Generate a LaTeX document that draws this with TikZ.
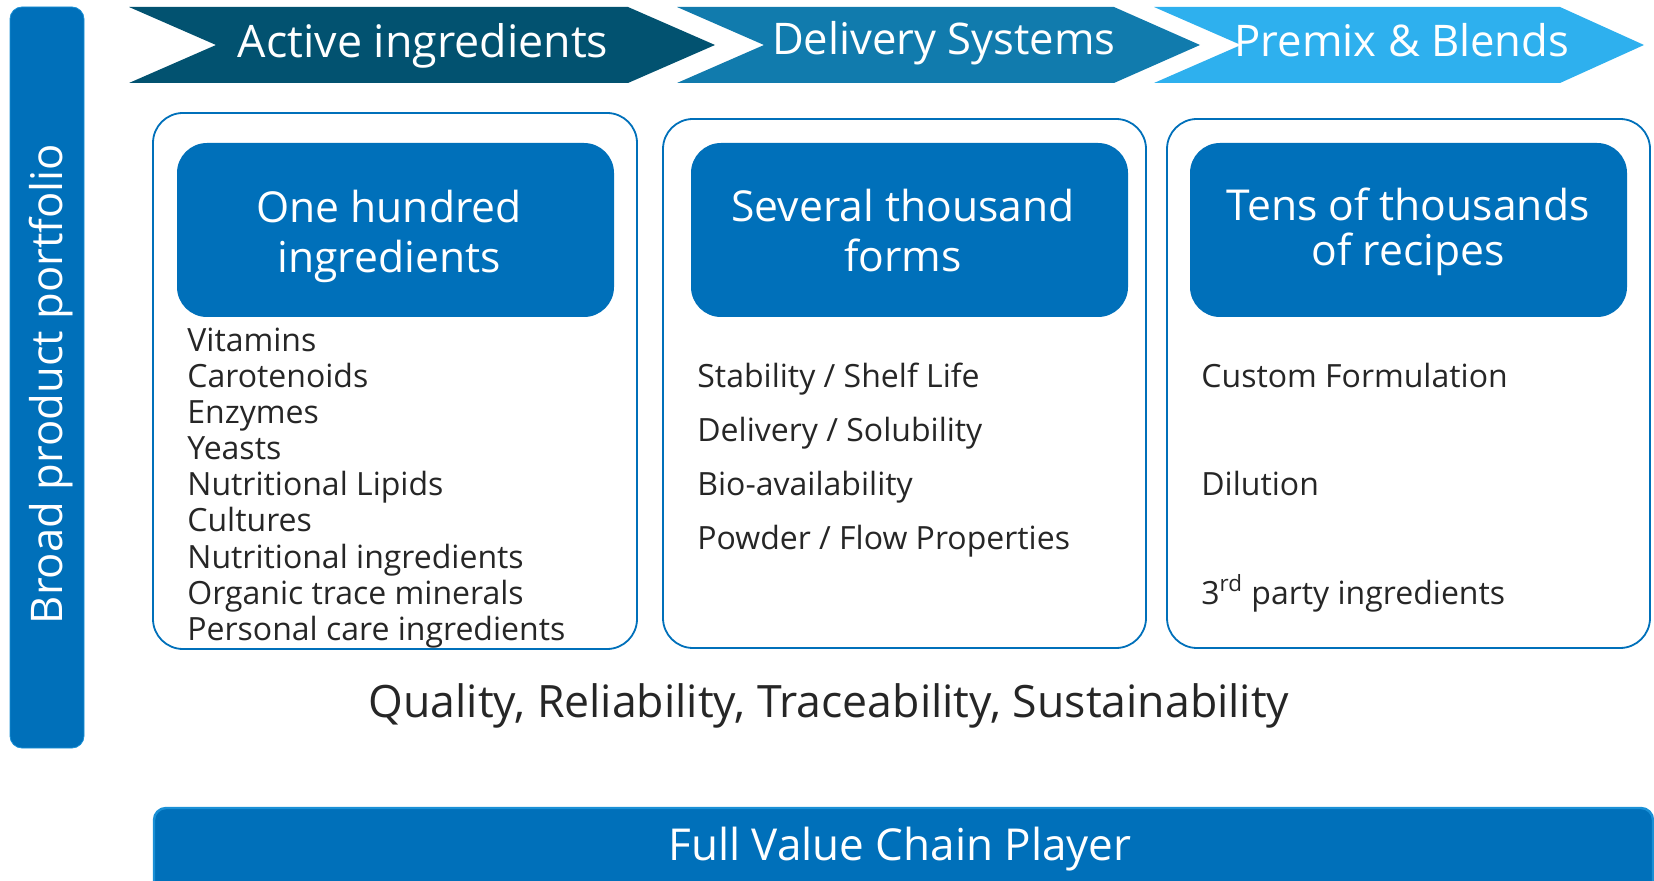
\documentclass[tikz,border=0pt]{standalone}
\usepackage{fontspec}
\setmainfont{Open Sans}
\definecolor{chevA}{HTML}{025270}
\definecolor{chevB}{HTML}{117BAD}
\definecolor{chevC}{HTML}{2EB0EE}
\definecolor{dsmblue}{HTML}{0070BA}
\definecolor{rimblue}{HTML}{1A90D6}
\definecolor{txtgrey}{HTML}{262626}

\begin{document}
\begin{tikzpicture}[x=0.5pt, y=-0.5pt]
  \tikzstyle{head} = [text=white, font=\fontsize{21.8}{25}\selectfont, inner sep=0pt, anchor=base]
  \tikzstyle{frame} = [draw=dsmblue, line width=0.9pt, rounded corners=15pt, fill=white]
  \tikzstyle{tile} = [fill=dsmblue, rounded corners=15pt, minimum width=218.5pt, minimum height=87pt]
  \tikzstyle{title} = [text=white, align=center, inner sep=0pt, font=\fontsize{21.3}{25}\selectfont]
  \tikzstyle{item} = [text=txtgrey, anchor=base west, inner sep=0pt, font=\fontsize{16}{18}\selectfont]

  \useasboundingbox (0,0) rectangle (1654,881);

  % value chain arrows
  \fill[chevA] (129,7) -- (628,7) -- (715,45) -- (628,83) -- (129,83) -- (216,45) -- cycle;
  \fill[chevB] (677,7) -- (1114,7) -- (1200,45) -- (1114,83) -- (677,83) -- (764,45) -- cycle;
  \fill[chevC] (1154,7) -- (1560,7) -- (1644,45) -- (1560,83) -- (1154,83) -- (1241,45) -- cycle;
  \node[head, font=\fontsize{22.4}{25}\selectfont] (act) at (423,58) {Active ingredients};
  \node[head] (del) at (944,55) {Delivery Systems};
  \node[head] (pre) at (1402,57) {Premix \& Blends};

  % portfolio bar
  \draw[rimblue, fill=dsmblue, rounded corners=6pt] (10,7) rectangle (84,748);
  \node[head, rotate=90] (port) at (62,384) {Broad product portfolio};

  % columns
  \draw[frame] (153,113) rectangle (637,649);
  \draw[frame] (663,119) rectangle (1146,648);
  \draw[frame] (1167,119) rectangle (1650,648);

  \node[tile] (hund) at (395.5,230) {};
  \node[tile] (thou) at (909.5,230) {};
  \node[tile] (tens) at (1408.5,230) {};
  \node[title] (hundt) at (389,236) {One hundred\\ingredients};
  \node[title] (thout) at (903,231) {Several thousand\\forms};
  \node[title, font=\fontsize{21.3}{22.5}\selectfont] (tenst) at (1408,232) {Tens of thousands\\of recipes};

  \node[item] (vit) at (187,352) {Vitamins};
  \node[item] (caro) at (187,388) {Carotenoids};
  \node[item] (enz) at (187,424) {Enzymes};
  \node[item] (yea) at (187,460) {Yeasts};
  \node[item] (lip) at (187,496) {Nutritional Lipids};
  \node[item] (cult) at (187,532) {Cultures};
  \node[item] (nutr) at (187,568) {Nutritional ingredients};
  \node[item] (orga) at (187,604) {Organic trace minerals};
  \node[item] (pers) at (187,640) {Personal care ingredients};

  \node[item] (stab) at (697,388) {Stability / Shelf Life};
  \node[item] (deli) at (697,442) {Delivery / Solubility};
  \node[item] (bio) at (697,496) {Bio-availability};
  \node[item] (powd) at (697,550) {Powder / Flow Properties};

  \node[item] (cust) at (1201,388) {Custom Formulation};
  \node[item] (dil) at (1201,496) {Dilution};
  \node[item] (third) at (1201,604) {3\textsuperscript{rd} party ingredients};

  \node[head, text=txtgrey, font=\fontsize{22.3}{25}\selectfont] (qual) at (829,717) {Quality, Reliability, Traceability, Sustainability};

  % value chain bar
  \draw[rimblue, fill=dsmblue, rounded corners=6pt, line width=1.2pt] (154,808) rectangle (1653,900);
  \node[head, font=\fontsize{22}{25}\selectfont] (full) at (900,860) {Full Value Chain Player};
\end{tikzpicture}
\end{document}
